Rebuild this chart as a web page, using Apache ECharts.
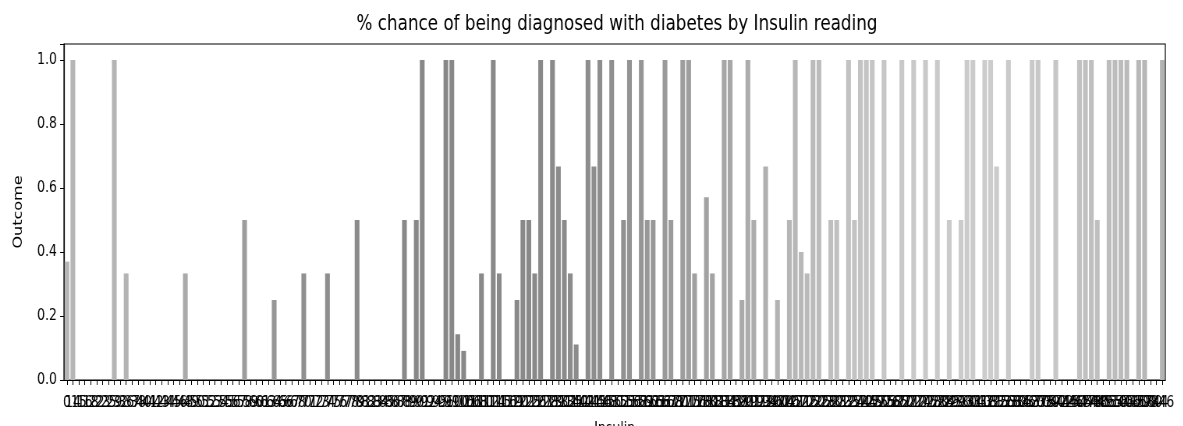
<!DOCTYPE html>
<html>
<head>
<meta charset="utf-8">
<script src="https://cdn.jsdelivr.net/npm/echarts@6/dist/echarts.min.js"></script>
<style>
html,body{margin:0;padding:0;background:#fff;overflow:hidden}
#wrap{width:1183px;height:426px;overflow:hidden}
#c{width:1517px;height:426px;transform:scaleX(0.78);transform-origin:0 0}
</style>
</head>
<body>
<div id="wrap"><div id="c"></div></div>
<script>
// Insulin readings (x categories)
const categories = [
  "0","14","15","16","18","22","23","25","29","32",
  "36","37","38","40","41","42","43","44","45","46",
  "48","49","50","51","52","53","54","55","56","57",
  "58","59","60","61","63","64","65","66","67","68",
  "70","71","72","73","74","75","76","77","78","79",
  "81","82","83","84","85","86","87","88","89","90",
  "91","92","94","95","96","99","100","105","106","108",
  "110","112","114","115","116","119","120","122","125","126",
  "127","128","129","130","132","135","140","142","144","145",
  "146","148","150","152","155","156","158","159","160","165",
  "166","167","168","170","171","175","176","178","180","182",
  "183","184","185","188","190","191","192","193","194","196",
  "200","204","205","207","210","215","220","225","228","230",
  "231","232","235","237","240","245","249","250","255","258",
  "265","270","271","272","274","275","277","280","284","285",
  "291","293","300","304","310","318","321","325","326","328",
  "330","335","342","360","370","375","387","392","402","415",
  "440","465","474","478","480","485","495","510","540","543",
  "545","579","600","680","744","846"
];

// Mean Outcome per insulin reading
const outcome = [
  0.37, 1, 0, 0, 0, 0, 0, 0, 1, 0,
  0.333, 0, 0, 0, 0, 0, 0, 0, 0, 0,
  0.333, 0, 0, 0, 0, 0, 0, 0, 0, 0,
  0.5, 0, 0, 0, 0, 0.25, 0, 0, 0, 0,
  0.333, 0, 0, 0, 0.333, 0, 0, 0, 0, 0.5,
  0, 0, 0, 0, 0, 0, 0, 0.5, 0, 0.5,
  1, 0, 0, 0, 1, 1, 0.143, 0.091, 0, 0,
  0.333, 0, 1, 0.333, 0, 0, 0.25, 0.5, 0.5, 0.333,
  1, 0, 1, 0.667, 0.5, 0.333, 0.111, 0, 1, 0.667,
  1, 0, 1, 0, 0.5, 1, 0, 1, 0.5, 0.5,
  0, 1, 0.5, 0, 1, 1, 0.333, 0, 0.571, 0.333,
  0, 1, 1, 0, 0.25, 1, 0.5, 0, 0.667, 0,
  0.25, 0, 0.5, 1, 0.4, 0.333, 1, 1, 0, 0.5,
  0.5, 0, 1, 0.5, 1, 1, 1, 0, 1, 0,
  0, 1, 0, 1, 0, 1, 0, 1, 0, 0.5,
  0, 0.5, 1, 1, 0, 1, 1, 0.667, 0, 1,
  0, 0, 0, 1, 1, 0, 0, 1, 0, 0,
  0, 1, 1, 1, 0.5, 0, 1, 1, 1, 1,
  0, 1, 1, 0, 0, 1
];

const yTickLabels = ["0.0","0.2","0.4","0.6","0.8","1.0"];

// styling: grey level along the category index
const grayStops = [[0,0xb6],[10,0xb4],[20,0xaa],[30,0x9d],[40,0x90],[50,0x8a],[60,0x88],[80,0x89],[92,0x8f],[100,0x99],[110,0xa4],[120,0xb3],[130,0xc0],[140,0xc8],[155,0xcc],[165,0xc8],[172,0xc0],[180,0xba],[185,0xb2]];
function grayAt(i){
  for (let k=0;k<grayStops.length-1;k++){
    const a=grayStops[k], b=grayStops[k+1];
    if (i>=a[0] && i<=b[0]){
      const t=(i-a[0])/(b[0]-a[0]);
      const g=Math.round(a[1]+(b[1]-a[1])*t);
      return 'rgb('+g+','+g+','+g+')';
    }
  }
  return '#b0b0b0';
}

const FONT = 'DejaVu Sans';
const chart = echarts.init(document.getElementById('c'), null, {renderer:'canvas'});
chart.setOption({
  animation:false,
  backgroundColor:'#fff',
  title:{
    text:'% chance of being diagnosed with diabetes by Insulin reading',
    left:786, top:8, textAlign:'center',
    textStyle:{fontFamily:FONT, fontSize:21.5, fontWeight:'normal', color:'#000'}
  },
  grid:{left:82, right:23, top:44, bottom:46, containLabel:false, outerBoundsMode:'none',
        show:true, borderColor:'#000', borderWidth:1.2, backgroundColor:'transparent'},
  xAxis:{
    type:'category', data:categories,
    name:'Insulin', nameLocation:'middle', nameGap:41,
    nameTextStyle:{fontFamily:FONT, fontSize:16, color:'#000'},
    axisLine:{lineStyle:{color:'#000', width:1.2}},
    axisTick:{show:true, interval:0, alignWithLabel:true, length:5, lineStyle:{color:'#000', width:1}},
    axisLabel:{interval:0, hideOverlap:false, fontFamily:FONT, fontSize:16, color:'#000', margin:15},
    splitLine:{show:false}
  },
  yAxis:{
    type:'value', min:0, max:1.05, interval:0.2,
    name:'Outcome', nameLocation:'middle', nameGap:50, nameRotate:90,
    nameTextStyle:{fontFamily:FONT, fontSize:16, color:'#000'},
    axisLine:{show:true, lineStyle:{color:'#000', width:1.2}},
    axisTick:{show:true, length:5, lineStyle:{color:'#000', width:1}},
    axisLabel:{fontFamily:FONT, fontSize:16, color:'#000', margin:9,
      formatter:function(v){
        const idx=Math.round(v/0.2);
        return (Math.abs(v-idx*0.2)<1e-6 && yTickLabels[idx]!==undefined) ? yTickLabels[idx] : '';
      }},
    splitLine:{show:false}
  },
  series:[{
    type:'bar', data:outcome, barCategoryGap:'20%',
    itemStyle:{color:function(p){return grayAt(p.dataIndex);}},
    emphasis:{disabled:true}
  }]
});
</script>
</body>
</html>
